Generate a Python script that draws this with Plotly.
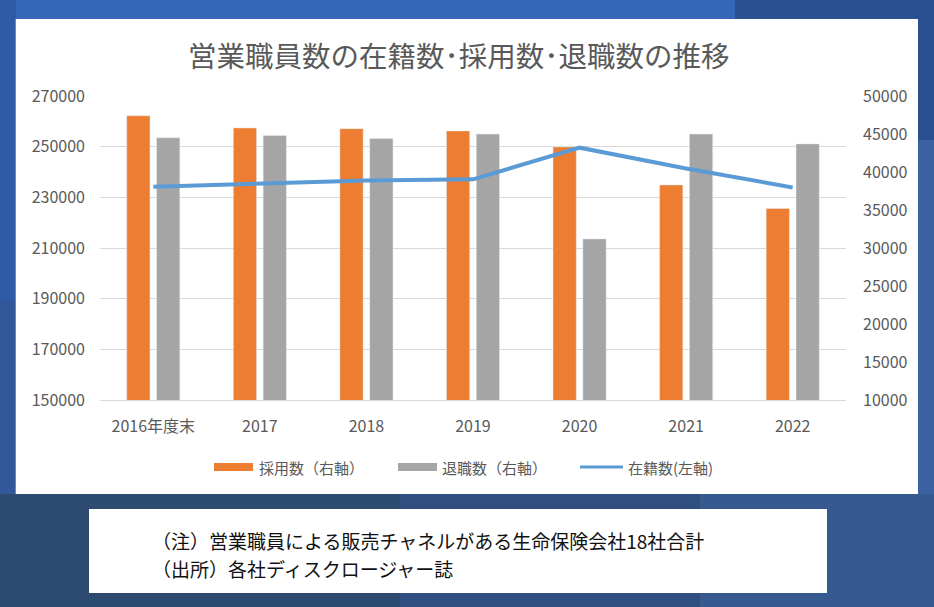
import plotly.graph_objects as go

categories = ["2016年度末", "2017", "2018", "2019", "2020", "2021", "2022"]
hires = [47400, 45800, 45700, 45400, 43300, 38300, 35200]        # 採用数(右軸)
leavers = [44500, 44800, 44400, 45000, 31200, 45000, 43700]      # 退職数(右軸)
enrolled = [234200, 235400, 236600, 237100, 249600, 241400, 233900]  # 在籍数(左軸)

title_text = "営業職員数の在籍数･採用数･退職数の推移"
legend_labels = ["採用数（右軸）", "退職数（右軸）", "在籍数(左軸)"]
note_lines = ["（注）営業職員による販売チャネルがある生命保険会社18社合計",
              "（出所）各社ディスクロージャー誌"]

W, H = 934, 607
PL, PR, PT, PB = 100, 846, 96, 400
FONT = "Noto Sans CJK JP, Noto Sans, sans-serif"
ORANGE, GRAY, BLUE = "#ed7d31", "#a5a5a5", "#5b9bd5"
TXT = "#595959"

def px(x):
    return (x - PL) / (PR - PL)

def py(y):
    return (PB - y) / (PB - PT)

fig = go.Figure()
# bars on the base (right-side) axis, line on the overlaying (left-side) axis so it draws on top
fig.add_trace(go.Bar(x=categories, y=hires, name=legend_labels[0], marker_color=ORANGE,
                     yaxis="y", showlegend=False))
fig.add_trace(go.Bar(x=categories, y=leavers, name=legend_labels[1], marker_color=GRAY,
                     yaxis="y", showlegend=False))
fig.add_trace(go.Scatter(x=categories, y=enrolled, name=legend_labels[2], mode="lines",
                         line=dict(color=BLUE, width=4), yaxis="y2", showlegend=False))

shapes = []
def rect(x0, y0, x1, y1, color, layer="below"):
    shapes.append(dict(type="rect", xref="paper", yref="paper", x0=px(x0), x1=px(x1),
                       y0=py(y1), y1=py(y0), fillcolor=color, line=dict(width=0), layer=layer))

# background blues
rect(0, 0, W, H, "#30589a")
rect(0, 0, 735, 20, "#3566b8")
rect(735, 0, W, 20, "#2a5092")
rect(0, 0, 16, 300, "#2f5aa5")
rect(918, 0, W, 140, "#2a5092")
rect(918, 140, W, 494, "#3a62a0")
rect(0, 494, 400, H, "#2d4a70")
rect(400, 494, 700, H, "#304f80")
rect(700, 494, W, H, "#36598f")
# white panels
rect(15.7, 19, 918, 494, "white")
rect(89, 509, 827, 593, "white")

# manual legend
rect(214, 463, 253, 471, ORANGE, layer="above")
rect(398, 463, 437, 471, GRAY, layer="above")
shapes.append(dict(type="line", xref="paper", yref="paper", x0=px(580), x1=px(623),
                   y0=py(467), y1=py(467), line=dict(color=BLUE, width=3)))

annotations = [
    dict(text=title_text, x=px(459), y=py(55), xref="paper", yref="paper", showarrow=False,
         xanchor="center", yanchor="middle", font=dict(size=28.5, color=TXT, family=FONT)),
    dict(text=legend_labels[0], x=px(257), y=py(467), xref="paper", yref="paper", showarrow=False,
         xanchor="left", yanchor="middle", font=dict(size=15, color=TXT, family=FONT)),
    dict(text=legend_labels[1], x=px(440), y=py(467), xref="paper", yref="paper", showarrow=False,
         xanchor="left", yanchor="middle", font=dict(size=15, color=TXT, family=FONT)),
    dict(text=legend_labels[2], x=px(626), y=py(467), xref="paper", yref="paper", showarrow=False,
         xanchor="left", yanchor="middle", font=dict(size=15, color=TXT, family=FONT)),
    dict(text=note_lines[0], x=px(150), y=py(540), xref="paper", yref="paper", showarrow=False,
         xanchor="left", yanchor="middle", font=dict(size=19, color="#111111", family=FONT)),
    dict(text=note_lines[1], x=px(150), y=py(568), xref="paper", yref="paper", showarrow=False,
         xanchor="left", yanchor="middle", font=dict(size=19, color="#111111", family=FONT)),
]

fig.update_layout(
    width=W, height=H,
    margin=dict(l=PL, r=W - PR, t=PT, b=H - PB, pad=0),
    paper_bgcolor="#30589a", plot_bgcolor="rgba(0,0,0,0)",
    barmode="group", bargap=0.44, bargroupgap=0.22,
    font=dict(family=FONT, color=TXT, size=16),
    shapes=shapes, annotations=annotations,
    xaxis=dict(type="category", showgrid=False, zeroline=False, showline=True,
               linecolor="#d9d9d9", linewidth=1, ticks="", ticklabelstandoff=12,
               tickfont=dict(size=16, color=TXT, family=FONT)),
    yaxis=dict(range=[10000, 50000], dtick=5000, tick0=10000, side="right",
               showgrid=False, zeroline=False, showline=False, ticks="",
               ticklabelstandoff=16, tickformat="d",
               tickfont=dict(size=16, color=TXT, family=FONT)),
    yaxis2=dict(range=[150000, 270000], dtick=20000, tick0=150000, overlaying="y", side="left",
                showgrid=True, gridcolor="#d9d9d9", gridwidth=1, zeroline=False, showline=False,
                ticks="", ticklabelstandoff=14, tickformat="d",
                tickfont=dict(size=16, color=TXT, family=FONT)),
)

fig.write_html("out.html", config={"displayModeBar": False},
               post_script="document.body.style.margin='0';document.body.style.overflow='hidden';")
